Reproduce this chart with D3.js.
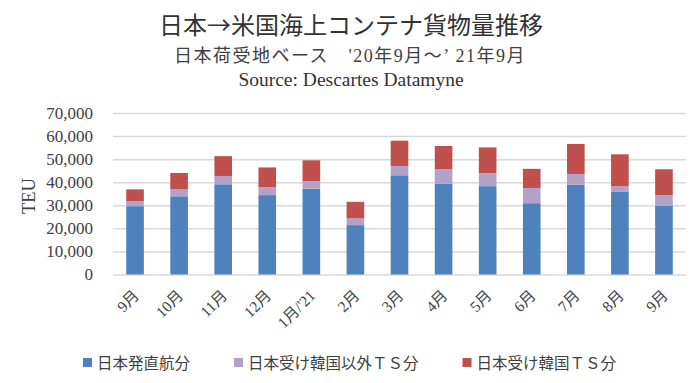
<!DOCTYPE html>
<html>
<head>
<meta charset="utf-8">
<script src="https://cdn.jsdelivr.net/npm/d3@7"></script>
<style>
  body { margin: 0; background: #fff; }
</style>
</head>
<body>
<div id="container"></div>
<script>
const w = 700;
const h = 383;

const months = ['9月', '10月', '11月', '12月', "1月/'21", '2月', '3月', '4月', '5月', '6月', '7月', '8月', '9月'];
const direct = [29600, 33900, 39100, 34400, 37200, 21400, 43000, 39300, 38300, 30900, 38900, 36000, 29800];
const tsOther = [2200, 3000, 3600, 3500, 3300, 2900, 4000, 6400, 5700, 6600, 4600, 2200, 4600];
const tsKorea = [5100, 7100, 8600, 8500, 9000, 7200, 11000, 10000, 11100, 8300, 13100, 13900, 11200];
const seriesNames = ['日本発直航分', '日本受け韓国以外ＴＳ分', '日本受け韓国ＴＳ分'];
const colors = ['#4f81bd', '#b3a2c8', '#c0504d'];
const yTicks = [0, 10000, 20000, 30000, 40000, 50000, 60000, 70000];

const serif = '"Liberation Serif", "Noto Sans CJK JP", serif';
const jp = '"Noto Sans CJK JP", sans-serif';
const p = {left: 113, right: 14, top: 113, bottom: 108.5};

const svg = d3.select('#container')
  .append('svg')
  .attr('width', w)
  .attr('height', h)
  .attr('viewBox', [0, 0, w, h]);

// titles
svg.append('text')
  .attr('x', 351).attr('y', 34)
  .attr('text-anchor', 'middle')
  .attr('font-family', jp)
  .attr('font-size', 24)
  .attr('fill', '#333')
  .text('日本→米国海上コンテナ貨物量推移');

svg.append('text')
  .attr('x', 350).attr('y', 62)
  .attr('text-anchor', 'middle')
  .attr('font-family', serif)
  .attr('font-size', 18)
  .attr('letter-spacing', 1.5)
  .attr('fill', '#404040')
  .text("日本荷受地ベース　'20年9月～’ 21年9月");

svg.append('text')
  .attr('x', 351).attr('y', 86)
  .attr('text-anchor', 'middle')
  .attr('font-family', serif)
  .attr('font-size', 19.5)
  .attr('fill', '#333')
  .text('Source: Descartes Datamyne');

const table = months.map((m, i) => ({i, a: direct[i], b: tsOther[i], c: tsKorea[i]}));
const stack = d3.stack().keys(['a', 'b', 'c'])(table);

const x = d3.scaleBand()
  .domain(d3.range(months.length))
  .range([p.left, w - p.right])
  .paddingInner(0.6)
  .paddingOuter(0.3);

const y = d3.scaleLinear()
  .domain([0, 70000])
  .range([h - p.bottom, p.top]);

// grid + y axis
const yAxis = d3.axisLeft(y)
  .tickValues(yTicks)
  .tickSize(-(w - p.right - p.left))
  .tickFormat(d3.format(','));

svg.append('g')
  .attr('transform', 'translate(' + p.left + ',0)')
  .call(yAxis)
  .call(g => g.select('.domain').remove())
  .call(g => g.selectAll('.tick line').attr('stroke', '#d9d9d9').attr('stroke-width', 1.5))
  .call(g => g.selectAll('.tick text')
    .attr('x', -20)
    .attr('font-family', serif)
    .attr('font-size', 17)
    .attr('fill', '#404040'));

svg.append('text')
  .attr('transform', 'translate(35,' + 196 + ') rotate(-90)')
  .attr('text-anchor', 'middle')
  .attr('font-family', serif)
  .attr('font-size', 18.5)
  .attr('fill', '#404040')
  .text('TEU');

// bars
svg.append('g')
  .selectAll('g')
  .data(stack)
  .join('g')
    .attr('fill', (d, i) => colors[i])
  .selectAll('rect')
  .data(d => d)
  .join('rect')
    .attr('x', d => x(d.data.i))
    .attr('y', d => y(d[1]))
    .attr('width', x.bandwidth())
    .attr('height', d => y(d[0]) - y(d[1]));

// x labels
const xAxis = d3.axisBottom(x)
  .tickSize(0)
  .tickFormat(i => months[i]);

svg.append('g')
  .attr('transform', 'translate(0,' + (h - p.bottom) + ')')
  .call(xAxis)
  .call(g => g.select('.domain').remove())
  .call(g => g.selectAll('.tick text')
    .attr('text-anchor', 'end')
    .attr('dy', 0)
    .attr('y', 0)
    .attr('transform', 'translate(5,22) rotate(-45)')
    .attr('font-family', serif)
    .attr('font-size', 15.5)
    .attr('fill', '#404040'));

// legend
const legend = svg.append('g');
let lx = 83;
seriesNames.forEach((name, i) => {
  legend.append('rect')
    .attr('x', lx).attr('y', 358)
    .attr('width', 9).attr('height', 9)
    .attr('fill', colors[i]);
  const t = legend.append('text')
    .attr('x', lx + 14).attr('y', 368.5)
    .attr('font-family', jp)
    .attr('font-size', 15.5)
    .attr('fill', '#404040')
    .text(name);
  lx += 14 + t.node().getComputedTextLength() + 44;
});
</script>
</body>
</html>
